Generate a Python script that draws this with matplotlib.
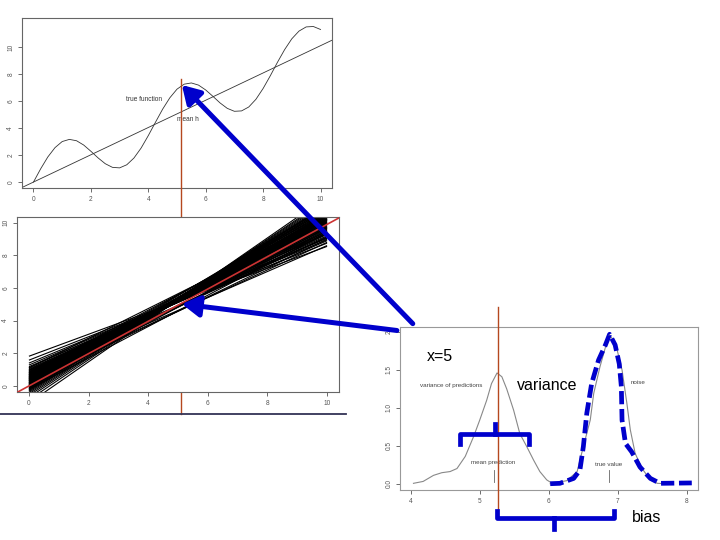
import matplotlib
matplotlib.use("Agg")
import matplotlib.pyplot as plt
from matplotlib.patches import ConnectionPatch
from matplotlib.collections import LineCollection

plt.rcParams['font.family'] = ['Liberation Sans', 'DejaVu Sans']

# ---------------- data ----------------
# top panel: true function
true_x = [0.0, 0.25, 0.5, 0.75, 1.0, 1.25, 1.5, 1.75, 2.0, 2.25, 2.5, 2.75, 3.0, 3.25,
          3.5, 3.75, 4.0, 4.25, 4.5, 4.75, 5.0, 5.25, 5.5, 5.75, 6.0, 6.25, 6.5, 6.75,
          7.0, 7.25, 7.5, 7.75, 8.0, 8.25, 8.5, 8.75, 9.0, 9.25, 9.5, 9.75, 10.0]
true_y = [0.00, 0.98, 1.86, 2.55, 3.00, 3.16, 3.06, 2.74, 2.28, 1.79, 1.36, 1.09, 1.05, 1.28,
          1.78, 2.52, 3.44, 4.43, 5.40, 6.24, 6.88, 7.25, 7.34, 7.18, 6.82, 6.35, 5.86, 5.46,
          5.24, 5.27, 5.56, 6.13, 6.93, 7.87, 8.87, 9.81, 10.61, 11.18, 11.49, 11.52, 11.30]
mean_h_intercept = 0.0
mean_h_slope = 1.01

# middle panel: fitted lines, value at x=0 and at x=10
fit_x = [0, 10]
fit_y0 = [1.82, 1.58, 1.40, 1.28, 1.18, 1.12, 1.05, 1.00, 0.96, 0.92, 0.88, 0.85, 0.82, 0.78,
          0.75, 0.72, 0.69, 0.66, 0.63, 0.60, 0.57, 0.54, 0.51, 0.48, 0.45, 0.42, 0.40, 0.37,
          0.34, 0.31, 0.28, 0.25, 0.22, 0.19, 0.16, 0.13, 0.10, 0.07, 0.04, 0.01, -0.02, -0.05,
          -0.08, -0.11, -0.15, -0.19, -0.23, -0.28, -0.33, -0.40, -0.48, -0.58, -0.70, -0.85,
          -1.05, 0.95, 0.70, 0.45, 0.20, -0.05, 0.80, 0.55, 0.30, 0.05, 0.65, 0.35, 1.10, 0.15,
          -0.20, 0.50]
fit_y10 = [8.55, 8.75, 8.95, 9.10, 9.05, 9.30, 9.20, 9.45, 9.35, 9.60, 9.50, 9.40, 9.70, 9.55,
           9.85, 9.65, 9.95, 9.75, 10.05, 9.80, 10.15, 9.90, 10.25, 10.00, 10.35, 9.95, 10.10,
           10.45, 10.20, 10.05, 10.55, 10.30, 10.15, 10.65, 10.40, 10.25, 10.70, 10.50, 10.35,
           10.80, 10.55, 10.45, 10.90, 10.60, 10.75, 11.00, 10.85, 11.05, 10.95, 11.15, 11.10,
           11.25, 11.35, 11.45, 11.60, 8.90, 9.10, 9.30, 9.50, 9.70, 10.40, 10.60, 10.80, 11.00,
           8.60, 8.80, 10.20, 9.00, 9.40, 9.15]
ref_intercept = 0.0
ref_slope = 0.99

# bottom panel: densities
pred_x = [4.04, 4.18, 4.33, 4.45, 4.57, 4.67, 4.79, 4.91, 5.00, 5.10, 5.17, 5.25, 5.32,
          5.39, 5.49, 5.58, 5.68, 5.78, 5.87, 5.97, 6.04]
pred_y = [0.005, 0.03, 0.11, 0.145, 0.16, 0.20, 0.36, 0.62, 0.84, 1.10, 1.32, 1.46, 1.41,
          1.25, 0.97, 0.66, 0.49, 0.31, 0.16, 0.05, 0.01]
noise_x = [6.02, 6.26, 6.41, 6.50, 6.60, 6.65, 6.74, 6.82, 6.87, 6.93, 6.99, 7.06, 7.13,
           7.18, 7.25, 7.35, 7.47, 7.57, 7.71]
noise_y = [0.0, 0.04, 0.16, 0.49, 0.84, 1.19, 1.54, 1.80, 1.97, 1.90, 1.76, 1.50, 1.06,
           0.71, 0.40, 0.20, 0.05, 0.005, 0.0]
noise_fit_x = [6.02, 6.16, 6.36, 6.45, 6.50, 6.55, 6.62, 6.72, 6.82, 6.88, 6.96, 7.02, 7.05,
               7.06, 7.11, 7.20, 7.32, 7.47, 7.61, 8.07]
noise_fit_y = [0.0, 0.005, 0.07, 0.18, 0.49, 0.93, 1.32, 1.63, 1.83, 1.97, 1.83, 1.58, 1.28,
               0.84, 0.53, 0.42, 0.22, 0.07, 0.005, 0.01]
mean_prediction = 5.2
true_value = 6.87

x_at = 5

# ---------------- figure ----------------
fig = plt.figure(figsize=(7.2, 5.4), dpi=100)
W, H = 720.0, 540.0


def rect(l, t, r, b):
    return [l / W, 1 - b / H, (r - l) / W, (b - t) / H]


ax_top = fig.add_axes(rect(22, 18, 332, 188))
ax_mid = fig.add_axes(rect(17, 217, 339, 392))
ax_bot = fig.add_axes(rect(400, 327, 698, 490))


def style(ax, spine_col='#666666'):
    ax.tick_params(direction='out', length=3, width=0.6, colors='#555555',
                   labelsize=4.7, pad=2.5)
    for s in ax.spines.values():
        s.set_color(spine_col)
        s.set_linewidth(0.8)
    for lab in ax.get_yticklabels():
        lab.set_rotation(90)
        lab.set_va('center')


# top panel
ax_top.plot(true_x, true_y, color='#333333', lw=0.6)
ax_top.axline((0, mean_h_intercept), slope=mean_h_slope, color='#333333', lw=0.6)
ax_top.set_xlim(-0.4, 10.4)
ax_top.set_ylim(-0.44, 12.15)
ax_top.set_xticks([0, 2, 4, 6, 8, 10])
ax_top.set_yticks([0, 2, 4, 6, 8, 10])
ax_top.text(3.85, 6.15, 'true function', fontsize=4.7, color='#333333', ha='center', va='center')
ax_top.text(5.38, 4.67, 'mean h', fontsize=4.7, color='#333333', ha='center', va='center')
style(ax_top)

# middle panel
segs = [[(fit_x[0], a), (fit_x[1], b)] for a, b in zip(fit_y0, fit_y10)]
ax_mid.add_collection(LineCollection(segs, colors='black', linewidths=0.8))
ax_mid.axline((0, ref_intercept), slope=ref_slope, color='#cc3333', lw=1.2, zorder=3)
ax_mid.set_xlim(-0.4, 10.4)
ax_mid.set_ylim(-0.37, 10.35)
ax_mid.set_xticks([0, 2, 4, 6, 8, 10])
ax_mid.set_yticks([0, 2, 4, 6, 8, 10])
style(ax_mid)
# dark rule under the middle panel
ax_mid.plot([-0.97, 10.64], [-1.71, -1.71], color='#333355', lw=1.3, clip_on=False)

# bottom-right panel
ax_bot.plot(pred_x, pred_y, color='#888888', lw=0.8)
ax_bot.plot(noise_x, noise_y, color='#888888', lw=0.8)
ax_bot.plot(noise_fit_x, noise_fit_y, color='#0000cc', lw=3.4, dashes=(2.8, 1.0),
            solid_capstyle='butt')
ax_bot.plot([mean_prediction, mean_prediction], [0.02, 0.18], color='#666666', lw=0.6)
ax_bot.plot([true_value, true_value], [0.02, 0.18], color='#666666', lw=0.6)
ax_bot.set_xlim(3.845, 8.16)
ax_bot.set_ylim(-0.083, 2.066)
ax_bot.set_xticks([4, 5, 6, 7, 8])
ax_bot.set_yticks([0.0, 0.5, 1.0, 1.5, 2.0])
ax_bot.set_yticklabels(['0.0', '0.5', '1.0', '1.5', '2'])
ax_bot.text(4.58, 1.30, 'variance of predictions', fontsize=4.5, color='#444444', ha='center', va='center')
ax_bot.text(7.29, 1.33, 'noise', fontsize=4.5, color='#444444', ha='center', va='center')
ax_bot.text(5.2, 0.28, 'mean prediction', fontsize=4.5, color='#444444', ha='center', va='center')
ax_bot.text(6.86, 0.255, 'true value', fontsize=4.5, color='#444444', ha='center', va='center')
style(ax_bot, '#999999')

# red vertical marker lines
ax_top.plot([5.14, 5.14], [7.6, -17.2], color='#b5481f', lw=1.0, clip_on=False, zorder=4)
ax_bot.plot([5.27, 5.27], [2.33, -0.41], color='#b5481f', lw=1.0, clip_on=False, zorder=4)

# braces
blue = '#0000cc'
ax_bot.plot([4.72, 4.72, 5.71, 5.71], [0.52, 0.65, 0.65, 0.52], color=blue, lw=3.4,
            clip_on=False, solid_joinstyle='round', zorder=5)
ax_bot.plot([5.22, 5.22], [0.65, 0.79], color=blue, lw=3.4, clip_on=False, zorder=5)
ax_bot.plot([5.25, 5.25, 6.95, 6.95], [-0.355, -0.455, -0.455, -0.355], color=blue, lw=3.4,
            clip_on=False, solid_joinstyle='round', zorder=5)
ax_bot.plot([6.08, 6.08], [-0.455, -0.60], color=blue, lw=3.4, clip_on=False, zorder=5)

# annotation texts
ax_bot.text(4.24, 1.68, 'x=%d' % x_at, fontsize=11.5, ha='left', va='center')
ax_bot.text(5.54, 1.29, 'variance', fontsize=11.5, ha='left', va='center')
ax_bot.text(7.21, -0.45, 'bias', fontsize=11.5, ha='left', va='center')

# arrows
for xyA, xyB, axB in [((4.03, 2.11), (5.17, 7.19), ax_top),
                      ((3.80, 2.02), (5.13, 5.02), ax_mid)]:
    con = ConnectionPatch(xyA=xyA, coordsA=ax_bot.transData, xyB=xyB, coordsB=axB.transData,
                          arrowstyle='-|>,head_length=0.7,head_width=0.42', mutation_scale=15,
                          color=blue, lw=3.6, zorder=10)
    fig.add_artist(con)

fig.savefig('out.png', dpi=100)
